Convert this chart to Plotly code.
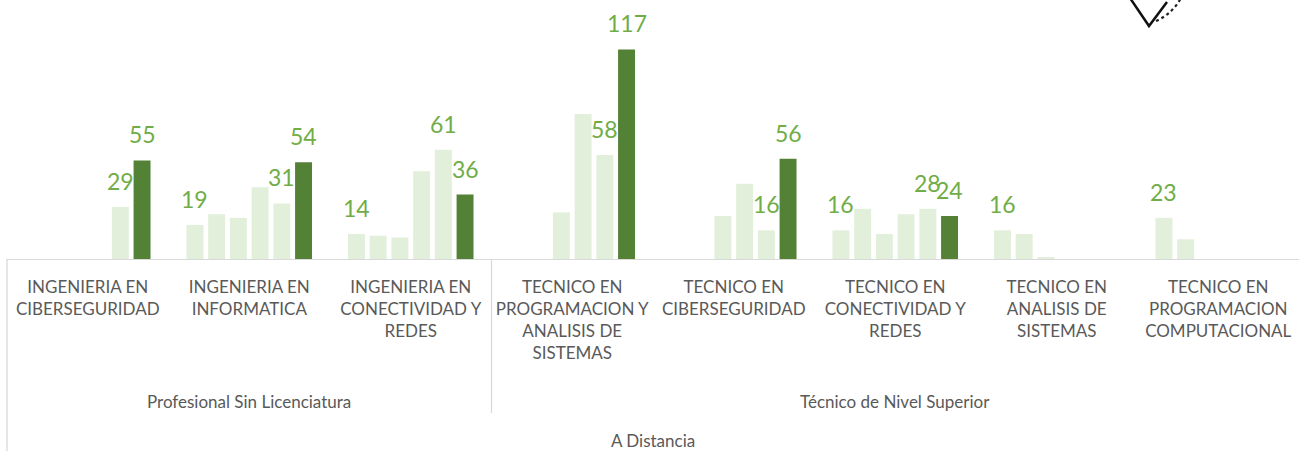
import plotly.graph_objects as go

categories = [
    "INGENIERIA EN CIBERSEGURIDAD",
    "INGENIERIA EN INFORMATICA",
    "INGENIERIA EN CONECTIVIDAD Y REDES",
    "TECNICO EN PROGRAMACION Y ANALISIS DE SISTEMAS",
    "TECNICO EN CIBERSEGURIDAD",
    "TECNICO EN CONECTIVIDAD Y REDES",
    "TECNICO EN ANALISIS DE SISTEMAS",
    "TECNICO EN PROGRAMACION COMPUTACIONAL",
]
tick_labels = [
    "INGENIERIA EN<br>CIBERSEGURIDAD",
    "INGENIERIA EN<br>INFORMATICA",
    "INGENIERIA EN<br>CONECTIVIDAD Y<br>REDES",
    "TECNICO EN<br>PROGRAMACION Y<br>ANALISIS DE<br>SISTEMAS",
    "TECNICO EN<br>CIBERSEGURIDAD",
    "TECNICO EN<br>CONECTIVIDAD Y<br>REDES",
    "TECNICO EN<br>ANALISIS DE<br>SISTEMAS",
    "TECNICO EN<br>PROGRAMACION<br>COMPUTACIONAL",
]
groups = ["Profesional Sin Licenciatura", "Técnico de Nivel Superior"]
group_sizes = [3, 5]
top_level = "A Distancia"

series_names = ["2019", "2020", "2021", "2022", "2023", "2024"]
s1 = [None, 19, 14, None, None, 16, 16, 23]
s2 = [None, 25, 13, None, None, 28, 14, 11]
s3 = [None, 23, 12, 26, 24, 14, 1, None]
s4 = [None, 40, 49, 81, 42, 25, None, None]
s5 = [29, 31, 61, 58, 16, 28, None, None]
s6 = [55, 54, 36, 117, 56, 24, None, None]
series = [s1, s2, s3, s4, s5, s6]
labeled_series = [0, 4, 5]

LIGHT = "#E2EFDA"
DARK = "#538135"
LABEL = "#70AD47"
GRAY_TXT = "#595959"
LINE = "#D9D9D9"
FONT = "Lato"

W, H = 1299, 451
ML, MR, MT, MB = 7, 0, 10, 192
BARGAP = 0.193
BARGROUPGAP = 0.22

fig = go.Figure()
for i, (name, vals) in enumerate(zip(series_names, series)):
    fig.add_trace(go.Bar(
        name=name, x=categories, y=vals,
        marker=dict(color=DARK if i == 5 else LIGHT, line=dict(width=0)),
        hoverinfo="x+y+name",
    ))

plot_w = W - ML - MR
plot_h = H - MT - MB
cat_px = plot_w / len(categories)
slot_px = (1 - BARGAP) * cat_px / len(series)

annotations = []
for i in labeled_series:
    for c, v in zip(categories, series[i]):
        if v is None:
            continue
        annotations.append(dict(
            x=c, y=v, xref="x", yref="y", text=str(v), showarrow=False,
            xshift=(i - (len(series) - 1) / 2) * slot_px, yshift=10,
            yanchor="bottom", xanchor="center",
            font=dict(family=FONT, size=23, color=LABEL),
        ))

# group labels
start = 0
for g, n in zip(groups, group_sizes):
    annotations.append(dict(
        x=start + (n - 1) / 2, y=-(401 - (H - MB)) / plot_h, xref="x", yref="paper",
        text=g, showarrow=False, yanchor="middle",
        font=dict(family=FONT, size=17, color=GRAY_TXT),
    ))
    start += n
annotations.append(dict(
    x=(len(categories) - 1) / 2, y=-(440 - (H - MB)) / plot_h, xref="x", yref="paper",
    text=top_level, showarrow=False, yanchor="middle",
    font=dict(family=FONT, size=17, color=GRAY_TXT),
))

shapes = [
    dict(type="line", xref="paper", yref="paper", x0=0, x1=0, y0=0, y1=-MB / plot_h,
         line=dict(color=LINE, width=1.3)),
]
b = 0
for n in group_sizes[:-1]:
    b += n
    shapes.append(dict(type="line", xref="x", yref="paper", x0=b - 0.5, x1=b - 0.5,
                       y0=0, y1=-(413 - (H - MB)) / plot_h,
                       line=dict(color=LINE, width=1.3)))

# decorative logo fragment (top right)
def px(xp, yp):
    return (xp - ML) / plot_w, ((H - MB) - yp) / plot_h

p = [px(1130, -2), px(1149, 26), px(1167, 2)]
shapes.append(dict(type="path", xref="paper", yref="paper",
                   path="M %f %f L %f %f L %f %f" % (p[0] + p[1] + p[2]),
                   line=dict(color="#111111", width=2.5)))
q = [px(1156, 21), px(1172, 14), px(1181, -2)]
shapes.append(dict(type="path", xref="paper", yref="paper",
                   path="M %f %f Q %f %f %f %f" % (q[0] + q[1] + q[2]),
                   line=dict(color="#222222", width=2.2, dash="dot")))

fig.update_layout(
    width=W, height=H,
    margin=dict(l=ML, r=MR, t=MT, b=MB),
    paper_bgcolor="white", plot_bgcolor="white",
    barmode="group", bargap=BARGAP, bargroupgap=BARGROUPGAP,
    showlegend=False,
    font=dict(family=FONT, color=GRAY_TXT),
    annotations=annotations, shapes=shapes,
    xaxis=dict(
        type="category", tickmode="array", tickvals=categories, ticktext=tick_labels,
        tickangle=0, showline=True, linecolor=LINE, linewidth=1.3,
        ticks="", showgrid=False, zeroline=False, ticklabelstandoff=12,
        tickfont=dict(family=FONT, size=17, color=GRAY_TXT),
    ),
    yaxis=dict(range=[0, 139], visible=False, showgrid=False, zeroline=False),
)

fig.write_html(
    "out.html",
    config={"displayModeBar": False},
    post_script="document.body.style.margin='0';document.body.style.overflow='hidden';",
)
